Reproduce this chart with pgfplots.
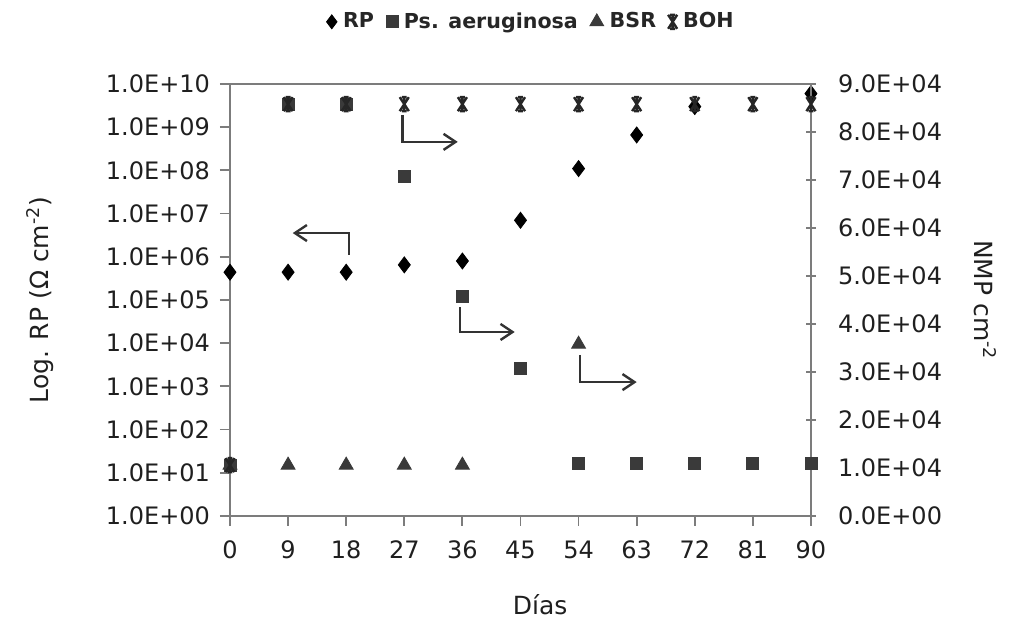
\documentclass[border=0pt]{standalone}
\usepackage{fontspec}
\setmainfont{DejaVu Sans}
\usepackage{pgfplots}
\pgfplotsset{compat=1.18}
\usetikzlibrary{arrows.meta}
\definecolor{axgray}{HTML}{7C7C7C}
\definecolor{mk}{HTML}{3A3A3A}
% Excel-like star marker: an X with a vertical bar
\pgfdeclareplotmark{xstar}{%
  \pgfpathmoveto{\pgfqpoint{-0.65\pgfplotmarksize}{-\pgfplotmarksize}}%
  \pgfpathlineto{\pgfqpoint{0.65\pgfplotmarksize}{\pgfplotmarksize}}%
  \pgfpathmoveto{\pgfqpoint{-0.65\pgfplotmarksize}{\pgfplotmarksize}}%
  \pgfpathlineto{\pgfqpoint{0.65\pgfplotmarksize}{-\pgfplotmarksize}}%
  \pgfpathmoveto{\pgfqpoint{0pt}{-0.8\pgfplotmarksize}}%
  \pgfpathlineto{\pgfqpoint{0pt}{0.8\pgfplotmarksize}}%
  \pgfpathmoveto{\pgfqpoint{-0.35\pgfplotmarksize}{\pgfplotmarksize}}%
  \pgfpathlineto{\pgfqpoint{0.35\pgfplotmarksize}{\pgfplotmarksize}}%
  \pgfpathmoveto{\pgfqpoint{-0.35\pgfplotmarksize}{-\pgfplotmarksize}}%
  \pgfpathlineto{\pgfqpoint{0.35\pgfplotmarksize}{-\pgfplotmarksize}}%
  \pgfusepathqstroke}
\begin{document}
\begin{tikzpicture}
\pgfplotsset{
  base/.style={
    width=290.5pt, height=216pt, scale only axis,
    xmin=0, xmax=90, xtick={0,9,...,90},
    axis line style={axgray, line width=0.9pt},
    tick style={axgray, line width=0.9pt},
    major tick length=5pt,
    ticklabel style={font=\fontsize{12}{14}\selectfont, text=black!88},
    label style={font=\fontsize{12.5}{15}\selectfont, text=black!88},
    /pgf/number format/assume math mode=true,
    legend image code/.code={\draw[##1] plot coordinates {(0.15cm,0cm)};},
  },
}
\begin{axis}[base,
  ymode=log, ymin=1, ymax=1e10,
  ytick={1,10,100,1000,1e4,1e5,1e6,1e7,1e8,1e9,1e10},
  yticklabels={1.0E+00,1.0E+01,1.0E+02,1.0E+03,1.0E+04,1.0E+05,1.0E+06,1.0E+07,1.0E+08,1.0E+09,1.0E+10},
  yminorticks=false, xtick pos=bottom, ytick pos=left, tick align=outside,
  xticklabel style={yshift=-4pt},
  yticklabel style={xshift=-1.5pt},
  xlabel={Días}, ylabel={Log. RP (Ω cm\textsuperscript{-2})},
  xlabel style={at={(axis description cs:0.534,-0.206)}, anchor=center},
  ylabel style={at={(axis description cs:-0.327,0.5)}, anchor=center},
]
% RP
\addplot[only marks, mark=diamond*, mark size=4pt, black] coordinates {
  (0,4.4e5) (9,4.4e5) (18,4.4e5) (27,6.5e5) (36,8e5) (45,7e6)
  (54,1.1e8) (63,6.6e8) (72,3e9) (90,6e9)
};
\coordinate (sw) at (rel axis cs:0,0);
\draw[black!80, line width=1.2pt, -{Straight Barb[length=6pt,width=8pt]}]
  (rel axis cs:0.297,0.928) -- (rel axis cs:0.297,0.866) -- (rel axis cs:0.392,0.866);
\draw[black!80, line width=1.2pt, -{Straight Barb[length=6pt,width=8pt]}]
  (rel axis cs:0.205,0.605) -- (rel axis cs:0.205,0.655) -- (rel axis cs:0.108,0.655);
\draw[black!80, line width=1.2pt, -{Straight Barb[length=6pt,width=8pt]}]
  (rel axis cs:0.396,0.483) -- (rel axis cs:0.396,0.426) -- (rel axis cs:0.490,0.426);
\draw[black!80, line width=1.2pt, -{Straight Barb[length=6pt,width=8pt]}]
  (rel axis cs:0.602,0.373) -- (rel axis cs:0.602,0.310) -- (rel axis cs:0.700,0.310);
\end{axis}
\begin{axis}[base,
  axis x line=none, axis y line*=right, tick align=center,
  ymin=0, ymax=90000, ytick={0,10000,...,90000}, scaled y ticks=false,
  yticklabels={0.0E+00,1.0E+04,2.0E+04,3.0E+04,4.0E+04,5.0E+04,6.0E+04,7.0E+04,8.0E+04,9.0E+04},
  yticklabel style={xshift=7.5pt},
  ylabel={NMP cm\textsuperscript{-2}},
  ylabel style={at={(axis description cs:1.30,0.5)}, anchor=center, rotate=180},
  legend columns=-1,
  legend style={at={(axis description cs:0.52,1.144)}, anchor=center, draw=none, fill=none,
    font=\bfseries\fontsize{10.3}{12}\selectfont, text=black!85,
    /tikz/every odd column/.append style={column sep=1pt},
    /tikz/every even column/.append style={column sep=4pt}},
]
\addlegendimage{only marks, mark=diamond*, mark size=3.5pt, black}
\addlegendentry{RP}
% Ps. aeruginosa
\addplot[only marks, mark=square*, mark size=3pt, mk] coordinates {
  (0,10600) (9,85800) (18,85800) (27,70800) (36,45800) (45,30800)
  (54,11000) (63,11000) (72,11000) (81,11000) (90,11000)
};
\addlegendentry{Ps. aeruginosa}
% BSR
\addplot[only marks, mark=triangle*, mark size=4pt, mk] coordinates {
  (0,10600) (9,10600) (18,10600) (27,10600) (36,10600) (54,35800)
};
\addlegendentry{BSR}
% BOH
\addplot[only marks, mark=xstar, mark size=3.5pt, mark options={line width=1.2pt}, black!85] coordinates {
  (0,10600) (9,85800) (18,85800) (27,85800) (36,85800) (45,85800)
  (54,85800) (63,85800) (72,85800) (81,85800) (90,85800)
};
\addlegendentry{BOH}
\end{axis}
\pgfresetboundingbox
\path[use as bounding box] (sw) ++(-115pt,-52.5pt) rectangle ++(504.5pt,310.5pt);
\end{tikzpicture}
\end{document}
